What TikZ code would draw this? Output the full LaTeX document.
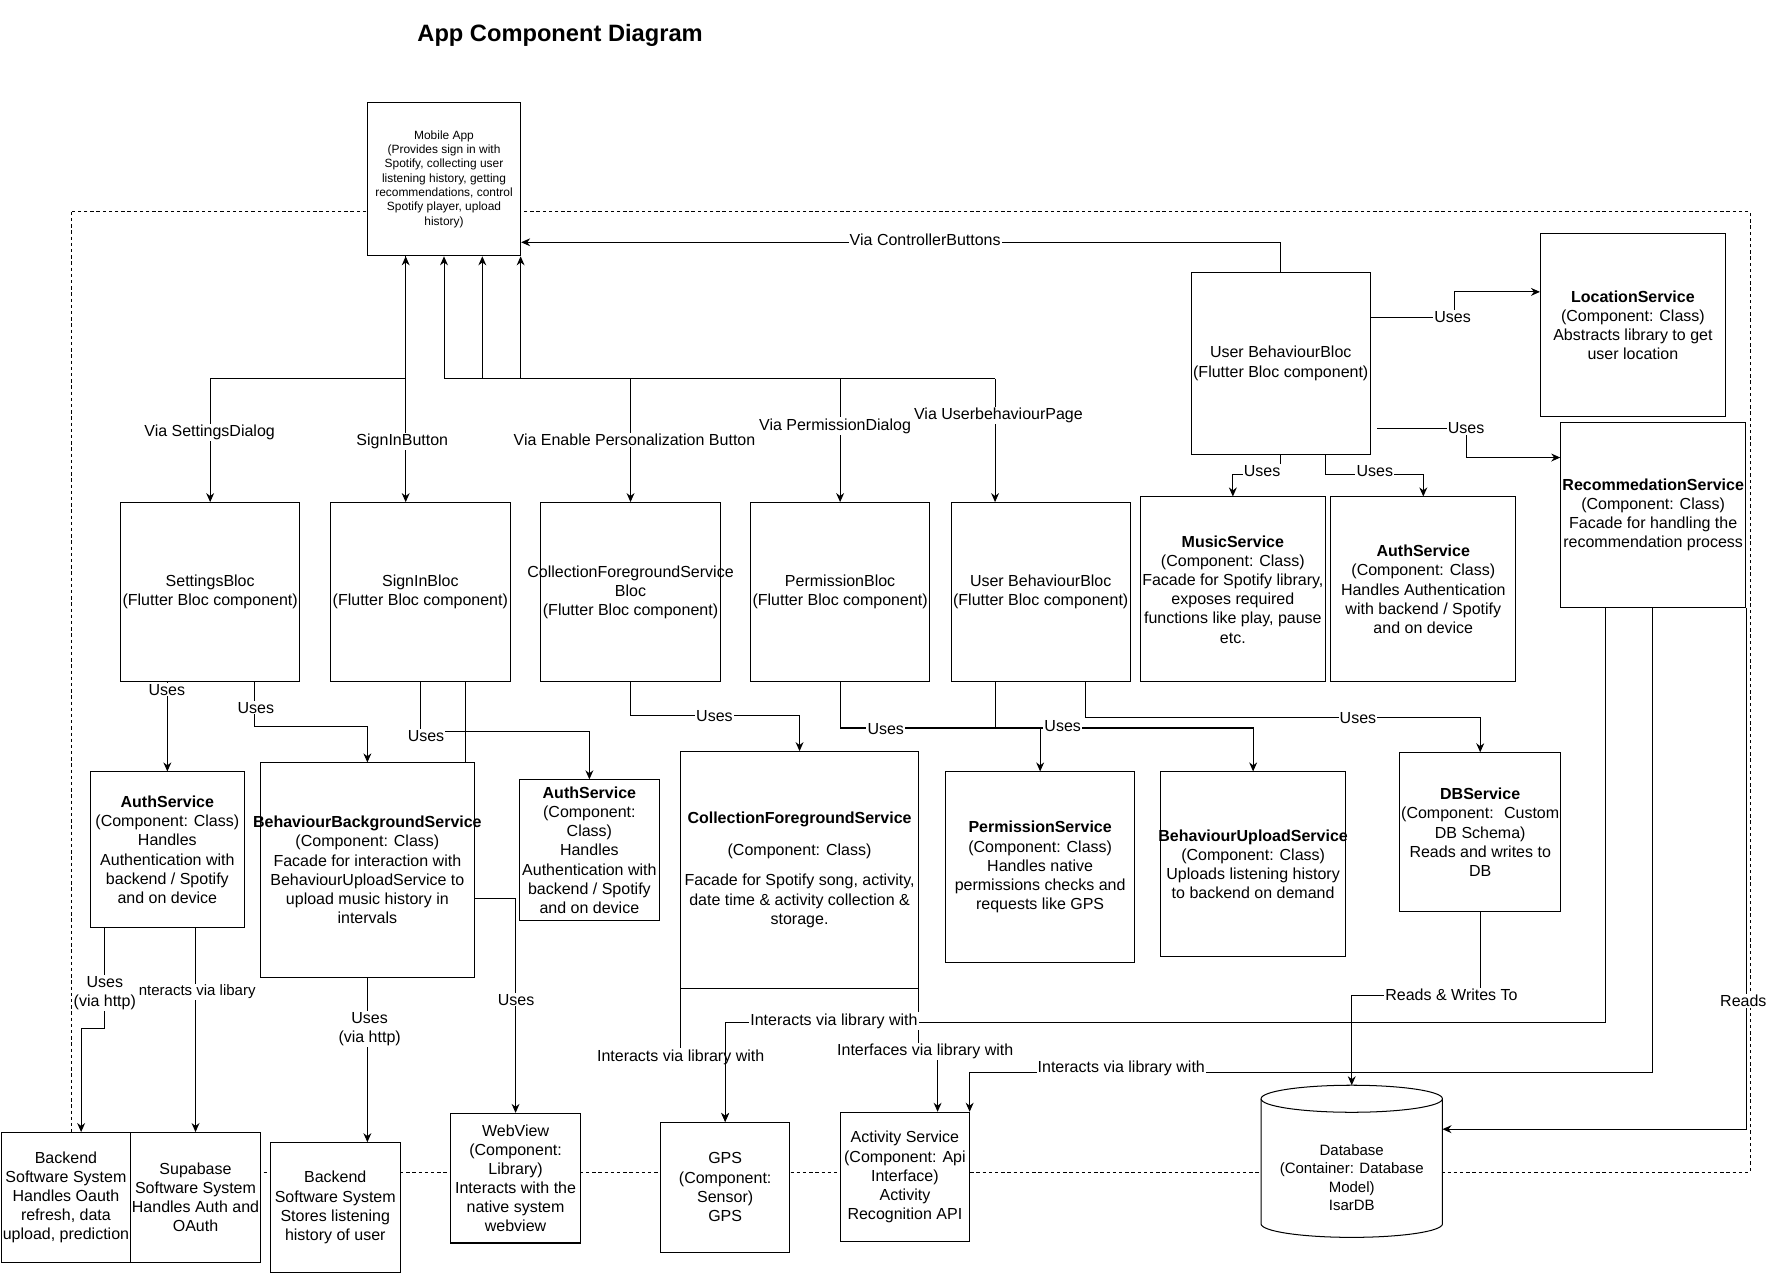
\documentclass[tikz,border=0pt]{standalone}
\usepackage{fontspec}
\setmainfont{Liberation Sans}
\usetikzlibrary{arrows.meta}
\newcommand\fs{\fontsize{14.2}{17}\selectfont}
\newcommand\bx[6]{%
  \node[box, minimum width={(#4)-(#2)}, minimum height={(#5)-(#3)}] (#1) at ({((#2)+(#4))/2},{((#3)+(#5))/2}) {};
  \node[txt] (#1t) at (#1.center) {#6};}
\begin{document}
\begin{tikzpicture}[x=1pt,y=-1pt,
  box/.style={draw, fill=white, line width=0.9pt, inner sep=0pt},
  txt/.style={font=\fs, align=center, inner sep=0pt},
  lbl/.style={fill=white, inner sep=1pt, font=\fs, align=center},
  conn/.style={draw, line width=0.9pt},
  arr/.style={conn, -{Stealth[length=8pt,width=7pt]}},
  arrb/.style={conn, {Stealth[length=8pt,width=7pt]}-{Stealth[length=8pt,width=7pt]}}]
\useasboundingbox (0,0) rectangle (1568,1130);
\fill[white] (0,0) rectangle (1568,1130);

\node[font=\bfseries\fontsize{21}{25}\selectfont] (title) at (497,31) {App Component Diagram};

% dashed system boundary
\draw[line width=0.8pt, dash pattern=on 3pt off 2.5pt] (63,188) rectangle (1553,1040);

% Mobile app
\node[box, minimum width=136, minimum height=136] (ma) at (394,159) {};
\node[font=\fontsize{10.6}{12.7}\selectfont, align=center, inner sep=0pt] (mat) at (ma.center) {Mobile App\\(Provides sign in with\\Spotify, collecting user\\listening history, getting\\recommendations, control\\Spotify player, upload\\history)};

\bx{sb}{107}{446}{266}{605}{SettingsBloc\\(Flutter Bloc component)}
\bx{sib}{293}{446}{453}{605}{SignInBloc\\(Flutter Bloc component)}
\bx{cfb}{480}{446}{639}{605}{CollectionForegroundService\\Bloc\\(Flutter Bloc component)}
\bx{pb}{666}{446}{825}{605}{PermissionBloc\\(Flutter Bloc component)}
\bx{ubl}{844}{446}{1003}{605}{User BehaviourBloc\\(Flutter Bloc component)}
\bx{ubt}{1057}{242}{1216}{403}{User BehaviourBloc\\(Flutter Bloc component)}
\bx{loc}{1367}{207}{1531}{370}{\textbf{LocationService}\\(Component: Class)\\Abstracts library to get\\user location}
\bx{rec}{1385}{375}{1549}{539}{\textbf{RecommedationService}\\(Component: Class)\\Facade for handling the\\recommendation process}
\bx{mus}{1012}{441}{1176}{605}{\textbf{MusicService}\\(Component: Class)\\Facade for Spotify library,\\exposes required\\functions like play, pause\\etc.}
\bx{authr}{1181}{441}{1345}{605}{\textbf{AuthService}\\(Component: Class)\\Handles Authentication\\with backend / Spotify\\and on device}
\bx{authl}{80}{685}{217}{823}{\textbf{AuthService}\\(Component: Class)\\Handles\\Authentication with\\backend / Spotify\\and on device}
\bx{bbs}{231}{677}{421}{867}{\textbf{BehaviourBackgroundService}\\(Component: Class)\\Facade for interaction with\\BehaviourUploadService to\\upload music history in\\intervals}
\bx{authm}{461}{692}{585}{817}{\textbf{AuthService}\\(Component:\\Class)\\Handles\\Authentication with\\backend / Spotify\\and on device}
\bx{cfs}{604}{667}{815}{877}{\textbf{CollectionForegroundService}\\[11pt](Component: Class)\\[10pt]Facade for Spotify song, activity,\\date time \& activity collection \&\\storage.}
\bx{ps}{839}{685}{1007}{854}{\textbf{PermissionService}\\(Component: Class)\\Handles native\\permissions checks and\\requests like GPS}
\bx{bus}{1030}{685}{1194}{849}{\textbf{BehaviourUploadService}\\(Component: Class)\\Uploads listening history\\to backend on demand}
\bx{dbs}{1242}{668}{1385}{809}{\textbf{DBService}\\(Component:~ Custom\\DB Schema)\\Reads and writes to\\DB}
\bx{be1}{1}{1005}{116}{1120}{Backend\\Software System\\Handles Oauth\\refresh, data\\upload, prediction}
\bx{supa}{116}{1005}{231}{1120}{Supabase\\Software System\\Handles Auth and\\OAuth}
\bx{be2}{240}{1014}{355}{1129}{Backend\\Software System\\Stores listening\\history of user}
\bx{wv}{400}{988}{515}{1103}{WebView\\(Component:\\Library)\\Interacts with the\\native system\\webview}
\bx{gps}{586}{996}{701}{1111}{GPS\\(Component:\\Sensor)\\GPS}
\bx{act}{746}{987}{860}{1102}{Activity Service\\(Component: Api\\Interface)\\Activity\\Recognition API}

% Database cylinder
\path[draw, fill=white, line width=0.9pt] (1119,975) -- (1119,1086) arc[start angle=180, end angle=360, x radius=80.5pt, y radius=12pt] -- (1280,975) arc[start angle=0, end angle=180, x radius=80.5pt, y radius=12pt] -- cycle;
\draw[line width=0.9pt] (1119,975) arc[start angle=180, end angle=360, x radius=80.5pt, y radius=12pt];
\node[minimum width=161, minimum height=135, inner sep=0pt, outer sep=0pt] (db) at (1199.5,1030.5) {};
\node[font=\fontsize{13.3}{16}\selectfont, align=center, inner sep=0pt] (dbt) at (1199.5,1045) {Database\\(Container: Database\\Model)\\IsarDB};

% junction coordinates
\coordinate (jA) at (360,336);
\coordinate (jB) at (394,336);
\coordinate (jC) at (428,336);
\coordinate (jD) at (462,336);
\coordinate (jE) at (883,336);
\coordinate (ubtg) at (1222,380);

% connectors
\draw[arr] (ma.south -| jA) -- (jA) -| (sb.north);
\draw[arrb] (ma.south -| jA) -- (sib.north -| jA);
\draw[arr] (jB) -- (ma.south -| jB);
\draw[arr] (jC) -- (ma.south -| jC);
\draw[arr] (jD) -- (ma.south -| jD);
\draw[conn] (jB) -- (jE);
\draw[arr] (cfb.north |- jB) -- (cfb.north);
\draw[arr] (pb.north |- jB) -- (pb.north);
\draw[arr] (jE) -- (ubl.north -| jE);
\draw[arr] (ubt.north) |- (ma.east |- 0,215);
\draw[arr] (ubt.east |- 0,282) -| (1291,259) -- (loc.west |- 0,259);
\draw[arr] (ubtg) -| (1301,406) -- (rec.west |- 0,406);
\draw[arr] (ubt.south) |- (mus.north |- 0,421) -- (mus.north);
\draw[arr] (ubt.south -| 1176,0) |- (authr.north |- 0,421) -- (authr.north);
\draw[arr] (sb.south -| authl.north) -- (authl.north);
\draw[arr] (sb.south -| 226,0) |- (bbs.north |- 0,645) -- (bbs.north);
\draw[arr] (sib.south) |- (authm.north |- 0,649) -- (authm.north);
\draw[conn] (sib.south -| 413,0) -- (bbs.north -| 413,0);
\draw[arr] (cfb.south) |- (cfs.north |- 0,635) -- (cfs.north);
\draw[arr] (pb.south) |- (ps.north |- 0,646) -- (ps.north);
\draw[arr] (ubl.south -| jE) |- (bus.north |- 0,646) -- (bus.north);
\draw[arr] (ubl.south -| 963,0) |- (dbs.north |- 0,637) -- (dbs.north);
\draw[arr] (authl.south -| 93,0) |- (72,913) -- (be1.north -| 72,0);
\draw[arr] (authl.south -| supa.north) -- (supa.north);
\draw[arr] (bbs.south) -- (be2.north -| bbs.south);
\draw[arr] (bbs.east |- 0,797) -| (wv.north);
\draw[arr] (cfs.south west) |- (gps.north |- 0,938) -- (gps.north);
\draw[arr] (cfs.south east) |- (832,933) -- (act.north -| 832,0);
\draw[arr] (rec.south -| 1466,0) |- (act.north east |- 0,952) -- (act.north east);
\draw[arr] (rec.south east) |- (db.east |- 0,1002);
\draw[arr] (dbs.south) |- (db.north |- 0,883) -- (db.north);

% labels
\node[lbl] (l1) at (186,384) {Via SettingsDialog};
\node[lbl] (l2) at (357,392) {SignInButton};
\node[lbl] (l3) at (563,390) {Via Enable Personalization Button};
\node[lbl] (l4) at (741,378) {Via PermissionDialog};
\node[lbl] (l5) at (886,369) {Via UserbehaviourPage};
\node[lbl] (l6) at (821,213) {Via ControllerButtons};
\node[lbl] (l7) at (1289,281) {Uses};
\node[lbl] (l8) at (1301,380) {Uses};
\node[lbl] (l9) at (1120,418) {Uses};
\node[lbl] (l10) at (1220,418) {Uses};
\node[lbl] (l11) at (148,612) {Uses};
\node[lbl] (l12) at (227,628) {Uses};
\node[lbl] (l13) at (378,653) {Uses};
\node[lbl] (l14) at (634,635) {Uses};
\node[lbl] (l15) at (786,647) {Uses};
\node[lbl] (l16) at (943,644) {Uses};
\node[lbl] (l17) at (1205,637) {Uses};
\node[lbl] (l18) at (93,881) {Uses\\(via http)};
\node[lbl, font=\fontsize{13.3}{16}\selectfont] (l19) at (175,880) {nteracts via libary};
\node[lbl] (l20) at (328,913) {Uses\\(via http)};
\node[lbl] (l21) at (458,887) {Uses};
\node[lbl] (l22) at (604,938) {Interacts via library with};
\node[lbl] (l24) at (821,933) {Interfaces via library with};
\node[lbl] (l25) at (995,948) {Interacts via library with};
\node[lbl] (l26) at (1547,888) {Reads};
\node[lbl] (l27) at (1288,883) {Reads \& Writes To};

\draw[arr] (rec.south -| 1425,0) |- (gps.north |- 0,907) -- (gps.north);
\node[lbl] (l23) at (740,906) {Interacts via library with};
\end{tikzpicture}
\end{document}
